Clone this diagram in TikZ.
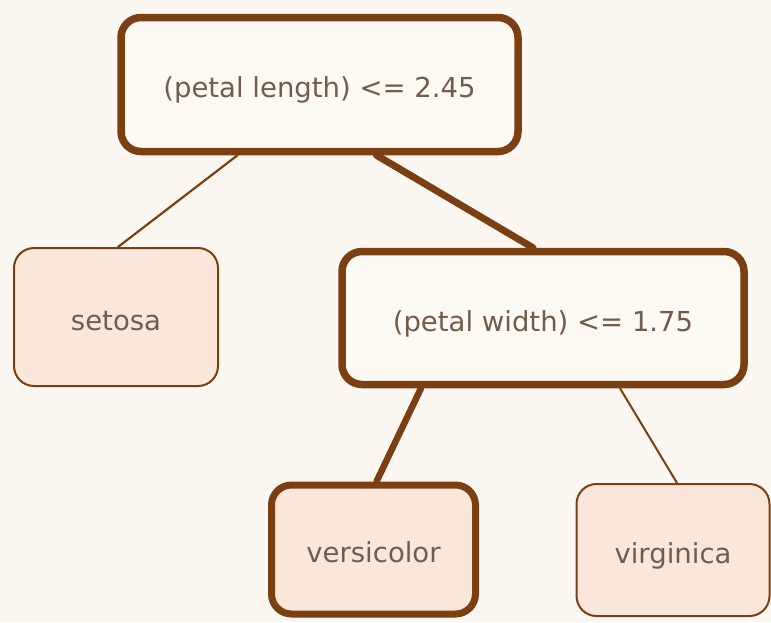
\documentclass[tikz,border=0pt]{standalone}
\usepackage{fontspec}
\setmainfont{DejaVu Sans}
\usetikzlibrary{backgrounds}
\definecolor{bgc}{HTML}{FCF8F1}
\definecolor{brn}{HTML}{7B3F14}
\definecolor{leaf}{HTML}{FBE6DA}
\definecolor{inner}{HTML}{FDFAF4}
\definecolor{txt}{HTML}{735C4C}
\tikzset{
  box/.style={draw=brn, rounded corners=20pt, text=txt, font=\fontsize{27.5}{32}\selectfont, inner sep=0pt, text height=26pt, text depth=0pt},
  split/.style={box, fill=inner},
  leafbox/.style={box, fill=leaf},
  heavy/.style={line width=7.5pt},
  light/.style={line width=2pt},
  edge/.style={draw=brn, line cap=round}
}
\begin{document}
\begin{tikzpicture}[x=1pt,y=-1pt]
\useasboundingbox (0,0) rectangle (771,622);
\node[split, heavy, minimum width=397pt, minimum height=134pt] (root) at (319.5,84.5) {(petal length) <= 2.45};
\node[leafbox, light, minimum width=204pt, minimum height=138pt] (setosa) at (116,317) {setosa};
\node[split, heavy, minimum width=402pt, minimum height=133pt] (pw) at (543,318) {(petal width) <= 1.75};
\node[leafbox, heavy, line width=7pt, minimum width=204pt, minimum height=129pt] (vers) at (373.5,549.5) {versicolor};
\node[leafbox, light, minimum width=193pt, minimum height=132pt] (virg) at (673,550) {virginica};
\begin{scope}[on background layer]
\fill[bgc] (0,0) rectangle (771,622);
\draw[edge, line width=2.2pt] ([xshift=-82pt]root.south) -- ([xshift=2pt]setosa.north);
\draw[edge, line width=7pt] ([xshift=57pt]root.south) -- ([xshift=-10pt]pw.north);
\draw[edge, line width=6.5pt] ([xshift=-122pt]pw.south) -- ([xshift=3pt]vers.north);
\draw[edge, line width=2pt] ([xshift=77pt]pw.south) -- ([xshift=4pt]virg.north);
\end{scope}
\end{tikzpicture}
\end{document}
